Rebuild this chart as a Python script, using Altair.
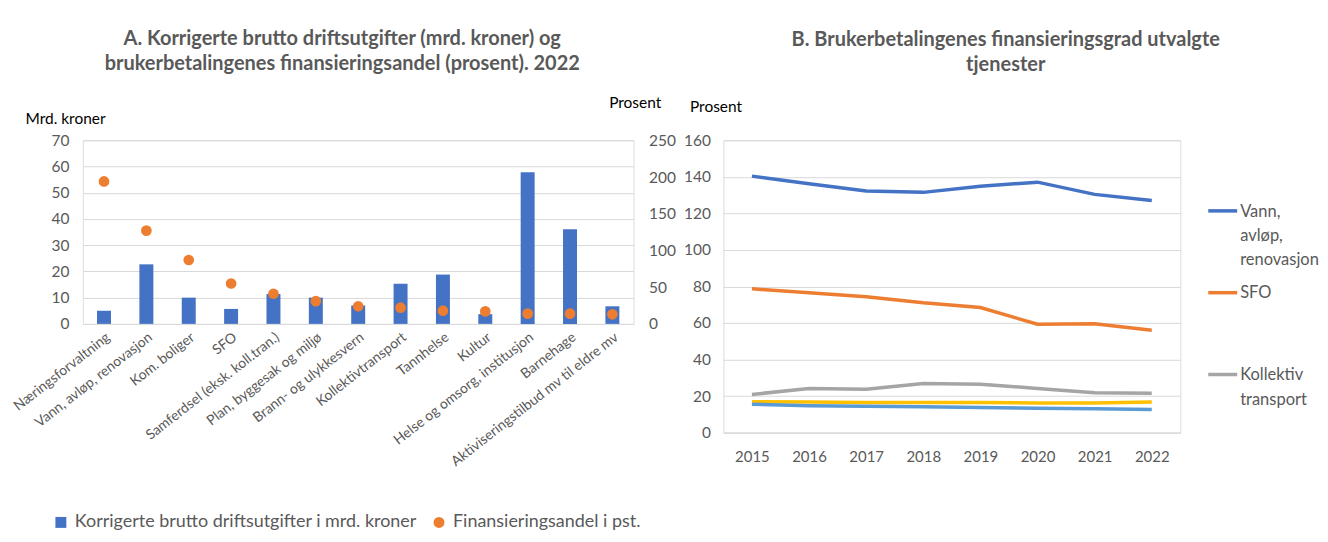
import altair as alt
import pandas as pd

# ---------- Panel A data ----------
kategorier = [
    "Næringsforvaltning", "Vann, avløp, renovasjon", "Kom. boliger", "SFO",
    "Samferdsel (eksk. koll.tran.)", "Plan, byggesak og miljø", "Brann- og ulykkesvern",
    "Kollektivtransport", "Tannhelse", "Kultur", "Helse og omsorg, institusjon",
    "Barnehage", "Aktiviseringstilbud mv til eldre mv",
]
driftsutgifter = [5.0, 22.7, 10.0, 5.7, 11.4, 10.0, 7.0, 15.3, 18.8, 3.7, 57.8, 36.1, 6.7]
finansieringsandel = [194, 127, 87, 55, 41, 31, 24, 22, 18, 17, 14, 14, 13]

serie_bar = "Korrigerte brutto driftsutgifter i mrd. kroner"
serie_pkt = "Finansieringsandel i pst."

# ---------- Panel B data ----------
aar = ["2015", "2016", "2017", "2018", "2019", "2020", "2021", "2022"]
vann = [140.4, 136.2, 132.2, 131.5, 134.9, 137.1, 130.4, 127.1]
sfo = [78.7, 76.5, 74.4, 71.1, 68.5, 59.3, 59.6, 56.0]
kollektiv = [20.9, 24.2, 23.8, 26.9, 26.5, 24.2, 21.8, 21.5]
barnehage = [16.9, 16.7, 16.5, 16.5, 16.5, 16.2, 16.2, 16.7]
helse = [15.5, 14.7, 14.5, 14.2, 13.8, 13.3, 13.1, 12.7]
serier = ["Vann, avløp, renovasjon", "SFO", "Kollektiv transport", "Barnehage", "Helse og omsorg"]
farger = ["#4472C4", "#ED7D31", "#A5A5A5", "#FFC000", "#5B9BD5"]

GREY = "#595959"
GRID = "#D9D9D9"
FONT = "Lato"

dfA = pd.DataFrame({
    "kategori": kategorier,
    "mrd": driftsutgifter,
    "pst": finansieringsandel,
    "serieA": serie_pkt,
})

rows = []
for navn, verdier in zip(serier, [vann, sfo, kollektiv, barnehage, helse]):
    for a, v in zip(aar, verdier):
        rows.append({"aar": a, "verdi": v, "serieB": navn, "idx": serier.index(navn)})
dfB = pd.DataFrame(rows)

xA = alt.X(
    "kategori:N", sort=kategorier, title=None,
    scale=alt.Scale(paddingInner=0, paddingOuter=0),
    axis=alt.Axis(labelAngle=-38, labelFontSize=14, labelColor=GREY, labelFont=FONT,
                  ticks=False, domain=False, labelPadding=6, labelLimit=300),
)

bars = alt.Chart(dfA).mark_bar(color="#4472C4", size=14).encode(
    x=xA,
    y=alt.Y(
        "mrd:Q", scale=alt.Scale(domain=[0, 70]),
        axis=alt.Axis(values=list(range(0, 71, 10)), title="Mrd. kroner", titleAngle=0,
                      titleAlign="left", titleBaseline="middle", titleX=-58, titleY=-22,
                      titleFontSize=15.5, titleFontWeight="normal", titleColor="#000000",
                      titleFont=FONT,
                      labelFontSize=15.5, labelColor=GREY, labelFont=FONT, labelPadding=14,
                      ticks=False, domain=False, gridColor=GRID),
    ),
)

legA = alt.Legend(orient="none", legendX=-31, legendY=374,
                  direction="horizontal", title=None,
                  labelFontSize=18, labelColor=GREY, labelFont=FONT, labelLimit=600,
                  symbolSize=120, columnPadding=12, labelOffset=5)

points = alt.Chart(dfA).mark_point(size=115, filled=True, opacity=1).encode(
    x=xA,
    y=alt.Y(
        "pst:Q", scale=alt.Scale(domain=[0, 250]),
        axis=alt.Axis(orient="right", values=list(range(0, 251, 50)), title="Prosent",
                      titleAngle=0, titleAlign="left", titleBaseline="middle",
                      titleX=-25, titleY=-38, titleFontSize=15.5, titleFontWeight="normal",
                      titleColor="#000000", titleFont=FONT,
                      labelFontSize=15.5, labelColor=GREY, labelFont=FONT, labelPadding=15,
                      ticks=False, domain=False, grid=False),
    ),
    color=alt.Color("serieA:N", scale=alt.Scale(domain=[serie_bar, serie_pkt],
                                                range=["#4472C4", "#ED7D31"]),
                    legend=legA),
    shape=alt.Shape("serieA:N", scale=alt.Scale(domain=[serie_bar, serie_pkt],
                                                range=["square", "circle"]),
                    legend=legA),
)

panelA = alt.layer(bars, points).resolve_scale(y="independent").properties(
    width=552, height=184,
    title=alt.TitleParams(
        text=["A. Korrigerte brutto driftsutgifter (mrd. kroner) og",
              "brukerbetalingenes finansieringsandel (prosent). 2022"],
        fontSize=20, font=FONT, fontWeight="bold", color=GREY, anchor="middle",
        dx=-16, offset=21, lineHeight=26,
    ),
)

label_expr = ("datum.label == 'Vann, avløp, renovasjon' ? ['Vann,', 'avløp,', 'renovasjon'] : "
              "datum.label == 'Kollektiv transport' ? ['Kollektiv', 'transport'] : "
              "datum.label == 'SFO' ? ['SFO', ' ', ' '] : datum.label")

panelB = alt.Chart(dfB).mark_line(strokeWidth=3.5).encode(
    x=alt.X("aar:O", title=None,
            axis=alt.Axis(labelAngle=0, labelFontSize=15, labelColor=GREY, labelFont=FONT,
                          ticks=False, domainColor=GRID, labelPadding=17)),
    y=alt.Y("verdi:Q", scale=alt.Scale(domain=[0, 160]),
            axis=alt.Axis(values=list(range(0, 161, 20)), title="Prosent", titleAngle=0,
                          titleAlign="left", titleBaseline="middle", titleX=-34, titleY=-34,
                          titleFontSize=15.5, titleFontWeight="normal", titleColor="#000000",
                          titleFont=FONT,
                          labelFontSize=15.5, labelColor=GREY, labelFont=FONT, labelPadding=13,
                          ticks=False, domain=False, gridColor=GRID)),
    color=alt.Color("serieB:N", sort=serier,
                    scale=alt.Scale(domain=serier, range=farger),
                    legend=alt.Legend(orient="none", legendX=484, legendY=47, title=None,
                                      values=serier[:3], symbolType="M-1,0.5L1,0.5",
                                      symbolStrokeWidth=3.5, symbolSize=841,
                                      labelFontSize=16.5, labelColor=GREY, labelFont=FONT,
                                      labelBaseline="top", labelExpr=label_expr,
                                      labelOffset=1, rowPadding=0, labelLimit=200)),
    order=alt.Order("idx:Q"),
).properties(
    width=458, height=293,
    title=alt.TitleParams(
        text=["B. Brukerbetalingenes finansieringsgrad utvalgte", "tjenester"],
        fontSize=20, font=FONT, fontWeight="bold", color=GREY, anchor="middle",
        dx=54, offset=24, lineHeight=26,
    ),
)

chart = alt.hconcat(panelA, panelB, spacing=6).resolve_scale(
    color="independent", shape="independent"
).resolve_legend(color="independent", shape="independent").properties(
    padding={"left": 2, "top": 19, "right": 0, "bottom": 0}
).configure_view(stroke=None).configure(
    font=FONT, style={"guide-label": {"lineHeight": 24.5}}
)

chart.save("out.html", embed_options={"renderer": "svg", "actions": False})
